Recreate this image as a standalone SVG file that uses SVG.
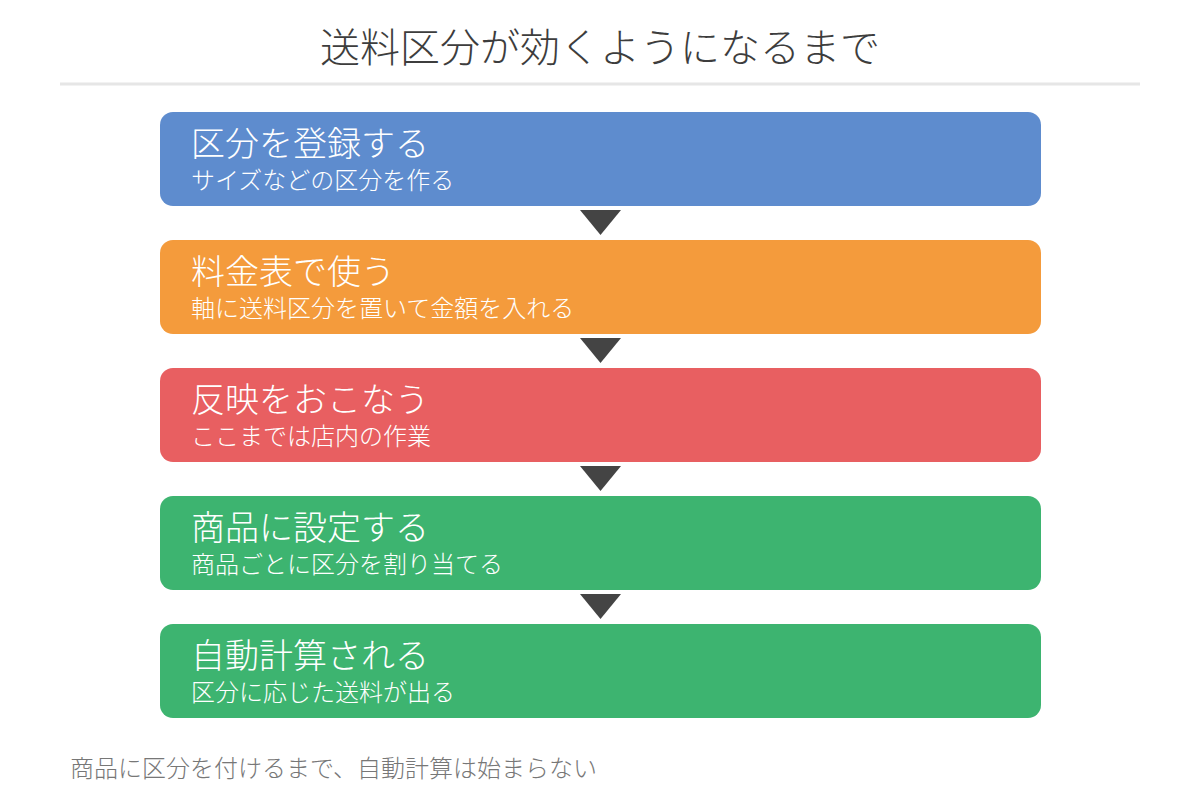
<svg xmlns="http://www.w3.org/2000/svg" width="1200" height="806" viewBox="0 0 1200 806">
<style>
.t{font-family:"Noto Sans CJK JP","Noto Sans",sans-serif;font-weight:300;}
.title{font-size:40px;fill:#3d3d3d;text-anchor:middle;}
.h{font-size:34px;fill:#fff;}
.s{font-size:24px;fill:#fff;}
.foot{font-size:24px;fill:#777;}
.arr{fill:#444;}
</style>
<rect width="1200" height="806" fill="#fff"/>
<text class="t title" x="600" y="62">送料区分が効くようになるまで</text>
<line x1="60" y1="84" x2="1140" y2="84" stroke="#e6e6e6" stroke-width="3"/>
<g id="connectors">
<polygon class="arr" points="580,210 621,210 600.5,235"/>
<polygon class="arr" points="580,338 621,338 600.5,363"/>
<polygon class="arr" points="580,466 621,466 600.5,491"/>
<polygon class="arr" points="580,594 621,594 600.5,619"/>
</g>
<g id="step1">
<rect x="160" y="112" width="881" height="94" rx="13" fill="#5e8cce"/>
<text class="t h" x="191" y="156">区分を登録する</text>
<text class="t s" x="191" y="189">サイズなどの区分を作る</text>
</g>
<g id="step2">
<rect x="160" y="240" width="881" height="94" rx="13" fill="#f49b3c"/>
<text class="t h" x="191" y="284">料金表で使う</text>
<text class="t s" x="191" y="317">軸に送料区分を置いて金額を入れる</text>
</g>
<g id="step3">
<rect x="160" y="368" width="881" height="94" rx="13" fill="#e85f61"/>
<text class="t h" x="191" y="412">反映をおこなう</text>
<text class="t s" x="191" y="445">ここまでは店内の作業</text>
</g>
<g id="step4">
<rect x="160" y="496" width="881" height="94" rx="13" fill="#3db470"/>
<text class="t h" x="191" y="540">商品に設定する</text>
<text class="t s" x="191" y="573">商品ごとに区分を割り当てる</text>
</g>
<g id="step5">
<rect x="160" y="624" width="881" height="94" rx="13" fill="#3db470"/>
<text class="t h" x="191" y="668">自動計算される</text>
<text class="t s" x="191" y="701">区分に応じた送料が出る</text>
</g>
<text class="t foot" x="70" y="777">商品に区分を付けるまで、自動計算は始まらない</text>
</svg>
